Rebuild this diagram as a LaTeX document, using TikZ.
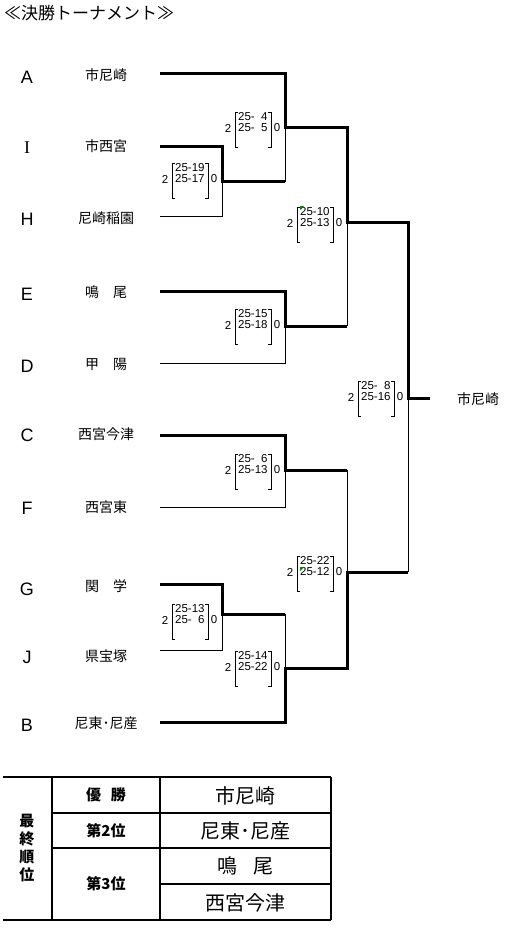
\documentclass[tikz,border=0pt]{standalone}
\usepackage{fontspec}
\setmainfont{Liberation Sans}
\newfontfamily\jp{Noto Sans CJK JP}
\newfontfamily\serifI{Liberation Serif}
\newcommand\scb[5]{%
 \node[sc] (#1w) at ({#2-57},{#3}) {2};
 \node[sc] (#1l) at ({#2-8},{#3}) {0};
 \node[sc,anchor=west] (#1a) at ({#2-47},{#3-11}) {#4};
 \node[sc,anchor=west] (#1b) at ({#2-47},{#3}) {#5};
 \draw[brk] ({#2-47},{#3-16}) -- ({#2-50},{#3-16}) -- ({#2-50},{#3+19}) -- ({#2-47},{#3+19});
 \draw[brk] ({#2-17},{#3-16}) -- ({#2-14},{#3-16}) -- ({#2-14},{#3+19}) -- ({#2-17},{#3+19});
}
\begin{document}
\begin{tikzpicture}[x=1pt,y=-1pt,
  thickl/.style={line width=3pt,line join=miter},
  thinl/.style={line width=1pt},
  letter/.style={font=\fontsize{18}{18}\selectfont,inner sep=0pt},
  tname/.style={font=\jp\fontsize{14}{14}\selectfont,inner sep=0pt},
  sc/.style={font=\fontsize{11.5}{11.5}\selectfont,inner sep=0pt},
  brk/.style={line width=0.9pt},
  tbl/.style={line width=1.3pt},
  thd/.style={font=\jp\bfseries\fontsize{15}{15}\selectfont,inner sep=0pt},
  tres/.style={font=\jp\fontsize{20}{20}\selectfont,inner sep=0pt},
]
\useasboundingbox (0,0) rectangle (528,933);
\node[anchor=west,font=\jp\fontsize{17}{17}\selectfont,inner sep=0pt] (title) at (4,13) {≪決勝トーナメント≫};
% letters
\node[letter] (lA) at (27,77) {A};
\node[letter,font=\serifI\fontsize{18}{18}\selectfont] (lI) at (27,148) {I};
\node[letter] (lH) at (27,219) {H};
\node[letter] (lE) at (27,294) {E};
\node[letter] (lD) at (27,366) {D};
\node[letter] (lC) at (27,435) {C};
\node[letter] (lF) at (27,508) {F};
\node[letter] (lG) at (27,589) {G};
\node[letter] (lJ) at (27,657) {J};
\node[letter] (lB) at (27,725) {B};
% names
\node[tname] (nA) at (106,75) {市尼崎};
\node[tname] (nI) at (106,146) {市西宮};
\node[tname] (nH) at (106,218) {尼崎稲園};
\node[tname] (nE) at (106,292) {鳴　尾};
\node[tname] (nD) at (106,364) {甲　陽};
\node[tname] (nC) at (106,434) {西宮今津};
\node[tname] (nF) at (106,507) {西宮東};
\node[tname] (nG) at (106,586) {関　学};
\node[tname] (nJ) at (106,656) {県宝塚};
\node[tname] (nB) at (106,723) {尼東･尼産};
\node[tname] (win) at (478,399) {市尼崎};
% line starts
\coordinate (sA) at (160,74);
\coordinate (sI) at (160,147);
\coordinate (sH) at (160,217);
\coordinate (sE) at (160,291);
\coordinate (sD) at (160,363);
\coordinate (sC) at (160,435);
\coordinate (sF) at (160,507);
\coordinate (sG) at (160,584);
\coordinate (sJ) at (160,650);
\coordinate (sB) at (160,722);
% junctions
\coordinate (qIH) at (222,182);
\coordinate (qA) at (285,128);
\coordinate (qED) at (285,326);
\coordinate (sT) at (347,223);
\coordinate (fin) at (408,398);
\coordinate (wend) at (430,398);
\coordinate (qCF) at (285,470);
\coordinate (qGJ) at (222,614);
\coordinate (qB) at (285,668);
\coordinate (sB2) at (347,572);
% bracket lines
\draw[thinl] (qIH) |- (sH);
\draw[thinl] (qA) -- (qIH -| qA);
\draw[thinl] (qED) |- (sD);
\draw[thinl] (sT) -- (qED -| sT);
\draw[thinl] (fin) -- (fin |- sB2);
\draw[thinl] (qCF) |- (sF);
\draw[thinl] (qCF -| sT) -- (sB2);
\draw[thinl] (qGJ) |- (sJ);
\draw[thinl] (qGJ -| qB) -- (qB);
\draw[thickl] (sA) -| (qA) -| (sT) -| (fin) -- (wend);
\draw[thickl] (sI) -| (qIH) -- (qIH -| qA);
\draw[thickl] (sE) -| (qED) -- (qED -| sT);
\draw[thickl] (sC) -| (qCF) -- (qCF -| sT);
\draw[thickl] (sG) -| (qGJ) -- (qGJ -| qB);
\draw[thickl] (sB) -| (qB) -| (sB2) -- (sB2 -| fin);
% scores
\scb{qa}{285}{128}{25-\phantom{0}4}{25-\phantom{0}5}
\scb{qb}{222}{179}{25-19}{25-17}
\scb{sa}{347}{223}{25-10}{25-13}
\scb{qc}{285}{325}{25-15}{25-18}
\scb{fa}{408}{397}{25-\phantom{0}8}{25-16}
\scb{qd}{285}{470}{25-\phantom{0}6}{25-13}
\scb{sb}{347}{572}{25-22}{25-12}
\scb{qe}{222}{620}{25-13}{25-\phantom{0}6}
\scb{qf}{285}{667}{25-14}{25-22}
\fill[green!55!black] (300,206) -- (304,206) -- (300,210) -- cycle;
\fill[green!55!black] (300,567) -- (304,567) -- (300,571) -- cycle;
% table
\coordinate (t1) at (3,777);
\coordinate (t2) at (331,777);
\coordinate (b1) at (3,920);
\coordinate (b2) at (331,920);
\draw[tbl] (t1) -- (t2);
\draw[tbl] (b1) -- (b2);
\draw[tbl] (52,777) -- (52,920);
\draw[tbl] (160,777) -- (160,920);
\draw[tbl] (t2) -- (b2);
\draw[tbl] (52,813) -- (331,813);
\draw[tbl] (52,848) -- (331,848);
\draw[tbl] (160,884) -- (331,884);
\node[thd] (v1) at (27,821) {最};
\node[thd] (v2) at (27,839) {終};
\node[thd] (v3) at (27,857) {順};
\node[thd] (v4) at (27,875) {位};
\node[thd] (h1) at (106,795) {優\hspace{10pt}勝};
\node[thd] (h2) at (106,831) {第2位};
\node[thd] (h3) at (106,884) {第3位};
\node[tres] (r1) at (245,796) {市尼崎};
\node[tres] (r2) at (245,831) {尼東･尼産};
\node[tres] (r3) at (245,866) {鳴\hspace{16pt}尾};
\node[tres] (r4) at (245,903) {西宮今津};
\end{tikzpicture}
\end{document}
